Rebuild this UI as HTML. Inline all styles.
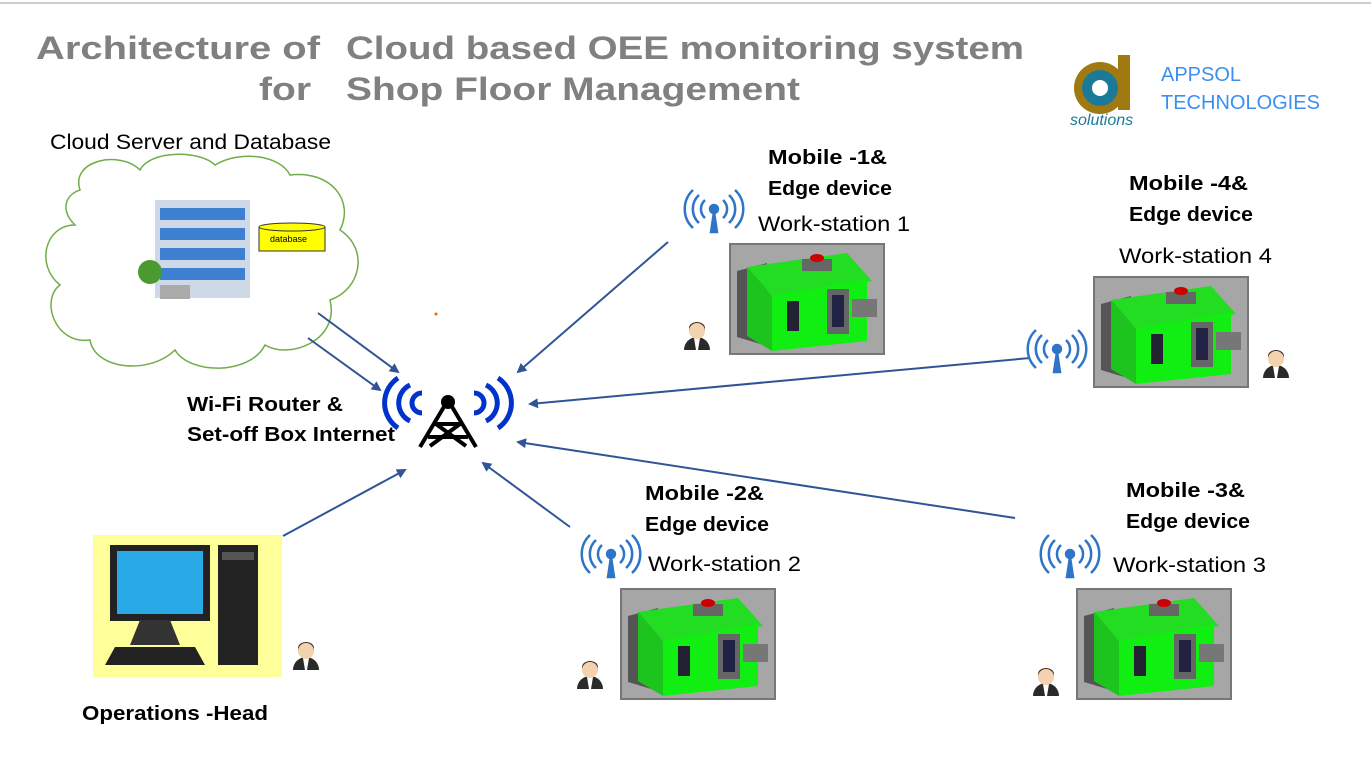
<!DOCTYPE html><html><head><style>body{margin:0;background:#fff}svg{display:block}text{font-family:"Liberation Sans",sans-serif}</style></head><body>
<svg width="1371" height="772" viewBox="0 0 1371 772" xmlns="http://www.w3.org/2000/svg">
<defs>
<marker id="ar" markerWidth="10" markerHeight="10" refX="8" refY="5" orient="auto" markerUnits="userSpaceOnUse"><path d="M0,0 L10,5 L0,10 z" fill="#2f5597"/></marker>
<g id="mach">
<rect x="0" y="0" width="160" height="116" fill="#fff"/>
<rect x="3" y="3" width="154" height="110" fill="#a6a6a6" stroke="#777" stroke-width="2"/>
<path d="M10,30 L40,22 L40,105 L10,96 z" fill="#555"/>
<path d="M20,26 L120,12 L145,40 L45,55 z" fill="#22dd22"/>
<path d="M45,55 L140,38 L140,100 L45,110 z" fill="#11ee11"/>
<path d="M20,26 L45,55 L45,110 L20,95 z" fill="#1ec41e"/>
<rect x="60" y="60" width="12" height="30" fill="#223"/>
<rect x="100" y="48" width="22" height="45" fill="#666"/><rect x="105" y="54" width="12" height="32" fill="#224"/>
<rect x="125" y="58" width="25" height="18" fill="#777"/>
<rect x="75" y="18" width="30" height="12" fill="#666"/><ellipse cx="90" cy="17" rx="7" ry="4" fill="#c00"/>
</g>
<g id="ant" fill="none" stroke="#2e75c8" stroke-width="2.5">
<path d="M-9,-10 a12,12 0 0 0 0,18 M9,-10 a12,12 0 0 1 0,18 M-15,-15 a19,19 0 0 0 0,28 M15,-15 a19,19 0 0 1 0,28 M-21,-20 a26,26 0 0 0 0,38 M21,-20 a26,26 0 0 1 0,38"/>
<circle cx="0" cy="-1" r="4" fill="#2e75c8"/><path d="M0,2 L-3,22 L3,22 z" fill="#2e75c8"/>
</g>
<g id="man"><path d="M-13,14 a13,13 0 0 1 26,0z" fill="#2a2a2a"/><path d="M-3,2 L3,2 L1,14 L-1,14z" fill="#fff"/><circle cx="0" cy="-5" r="8" fill="#f3d2b0"/><path d="M-8,-5 a8,8 0 0 1 16,0 L8,-8 a8,6 0 0 0 -16,0z" fill="#4a3020"/></g>
</defs>
<line x1="0" y1="3" x2="1371" y2="3" stroke="#ccc" stroke-width="2"/>
<g font-size="32" font-weight="bold" fill="#808080">
<text x="36" y="59" textLength="284" lengthAdjust="spacingAndGlyphs">Architecture of</text>
<text x="259" y="100" textLength="52" lengthAdjust="spacingAndGlyphs">for</text>
<text x="346" y="59" textLength="678" lengthAdjust="spacingAndGlyphs">Cloud based OEE monitoring system</text>
<text x="346" y="100" textLength="454" lengthAdjust="spacingAndGlyphs">Shop Floor Management</text>
</g>
<circle cx="1100" cy="88" r="26" fill="#a07a10"/><circle cx="1100" cy="88" r="18" fill="#1c7a99"/><circle cx="1100" cy="88" r="8" fill="#fff"/><rect x="1118" y="55" width="12" height="55" fill="#a07a10"/>
<text x="1070" y="125" font-size="16" fill="#1c7a99" font-style="italic">solutions</text>
<text x="1161" y="81" font-size="20" fill="#3b8ff0">APPSOL</text>
<text x="1161" y="109" font-size="20" fill="#3b8ff0">TECHNOLOGIES</text>
<text x="50" y="149" font-size="21" fill="#000" textLength="281" lengthAdjust="spacingAndGlyphs">Cloud Server and Database</text>
<path d="M80,190 C70,160 120,150 140,170 C150,150 200,150 215,165 C240,150 280,155 290,175 C330,170 355,200 340,230 C370,250 360,290 330,300 C340,340 290,360 265,345 C250,375 190,375 175,350 C150,375 95,370 90,340 C55,345 40,300 60,285 C35,265 45,225 75,225 C60,210 65,195 80,190 z" fill="#fff" stroke="#70ad47" stroke-width="1.5"/>
<rect x="155" y="200" width="95" height="98" fill="#cfd8e6"/>
<g fill="#3d7fd0"><rect x="160" y="208" width="85" height="12"/><rect x="160" y="228" width="85" height="12"/><rect x="160" y="248" width="85" height="12"/><rect x="160" y="268" width="85" height="12"/></g>
<circle cx="150" cy="272" r="12" fill="#4a9a30"/><rect x="160" y="285" width="30" height="14" fill="#aaa"/>
<rect x="259" y="227" width="66" height="24" fill="#ffff00" stroke="#333"/><ellipse cx="292" cy="227" rx="33" ry="4" fill="#ffff00" stroke="#333"/>
<text x="270" y="242" font-size="9">database</text>
<circle cx="436" cy="314" r="1.5" fill="#e46c0a"/>
<g stroke="#2f5597" stroke-width="2" marker-end="url(#ar)">
<line x1="318" y1="313" x2="398" y2="372"/><line x1="308" y1="338" x2="380" y2="390"/>
<line x1="668" y1="242" x2="518" y2="372"/><line x1="1030" y1="358" x2="530" y2="404"/>
<line x1="1015" y1="518" x2="518" y2="442"/><line x1="570" y1="527" x2="483" y2="463"/>
<line x1="283" y1="536" x2="405" y2="470"/>
</g>
<g fill="none" stroke="#0033cc" stroke-width="5">
<path d="M422,393 a10,10 0 0 0 0,20 M474,393 a10,10 0 0 1 0,20 M410,385 a20,20 0 0 0 0,36 M486,385 a20,20 0 0 1 0,36 M398,378 a30,30 0 0 0 0,50 M498,378 a30,30 0 0 1 0,50"/>
</g>
<g stroke="#000" stroke-width="4" fill="none"><path d="M448,400 L420,447 M448,400 L476,447 M434,424 L462,424 M428,437 L468,437 M436,424 L466,446 M460,424 L430,446"/></g>
<circle cx="448" cy="402" r="7" fill="#000"/>
<g font-size="20" font-weight="bold">
<text x="187" y="411" textLength="156" lengthAdjust="spacingAndGlyphs">Wi-Fi Router &amp;</text>
<text x="187" y="441" textLength="208" lengthAdjust="spacingAndGlyphs">Set-off Box Internet</text>
<text x="82" y="720" textLength="186" lengthAdjust="spacingAndGlyphs">Operations -Head</text>
<text x="768" y="164" textLength="119" lengthAdjust="spacingAndGlyphs">Mobile -1&amp;</text>
<text x="768" y="195" textLength="124" lengthAdjust="spacingAndGlyphs">Edge device</text>
<text x="1129" y="190" textLength="119" lengthAdjust="spacingAndGlyphs">Mobile -4&amp;</text>
<text x="1129" y="221" textLength="124" lengthAdjust="spacingAndGlyphs">Edge device</text>
<text x="645" y="500" textLength="119" lengthAdjust="spacingAndGlyphs">Mobile -2&amp;</text>
<text x="645" y="531" textLength="124" lengthAdjust="spacingAndGlyphs">Edge device</text>
<text x="1126" y="497" textLength="119" lengthAdjust="spacingAndGlyphs">Mobile -3&amp;</text>
<text x="1126" y="528" textLength="124" lengthAdjust="spacingAndGlyphs">Edge device</text>
</g>
<rect x="93" y="535" width="189" height="142" fill="#ffff99"/>
<rect x="110" y="545" width="100" height="76" fill="#222"/><rect x="117" y="551" width="86" height="63" fill="#29a9e6"/>
<path d="M140,620 L170,620 L180,645 L130,645z" fill="#333"/><path d="M115,647 L195,647 L205,665 L105,665z" fill="#222"/>
<rect x="218" y="545" width="40" height="120" fill="#222"/><rect x="222" y="552" width="32" height="8" fill="#555"/>
<use href="#man" x="306" y="656"/>
<g font-size="21">
<use href="#ant" x="714" y="210"/>
<text x="758" y="231" textLength="152" lengthAdjust="spacingAndGlyphs">Work-station 1</text>
<use href="#mach" x="727" y="241"/><use href="#man" x="697" y="336"/>
<text x="1119" y="263" textLength="153" lengthAdjust="spacingAndGlyphs">Work-station 4</text>
<use href="#mach" x="1091" y="274"/><use href="#ant" x="1057" y="350"/><use href="#man" x="1276" y="364"/>
<use href="#ant" x="611" y="555"/>
<text x="648" y="571" textLength="153" lengthAdjust="spacingAndGlyphs">Work-station 2</text>
<use href="#mach" x="618" y="586"/><use href="#man" x="590" y="675"/>
<use href="#ant" x="1070" y="555"/>
<text x="1113" y="572" textLength="153" lengthAdjust="spacingAndGlyphs">Work-station 3</text>
<use href="#mach" x="1074" y="586"/><use href="#man" x="1046" y="682"/>
</g>
</svg>
</body></html>
